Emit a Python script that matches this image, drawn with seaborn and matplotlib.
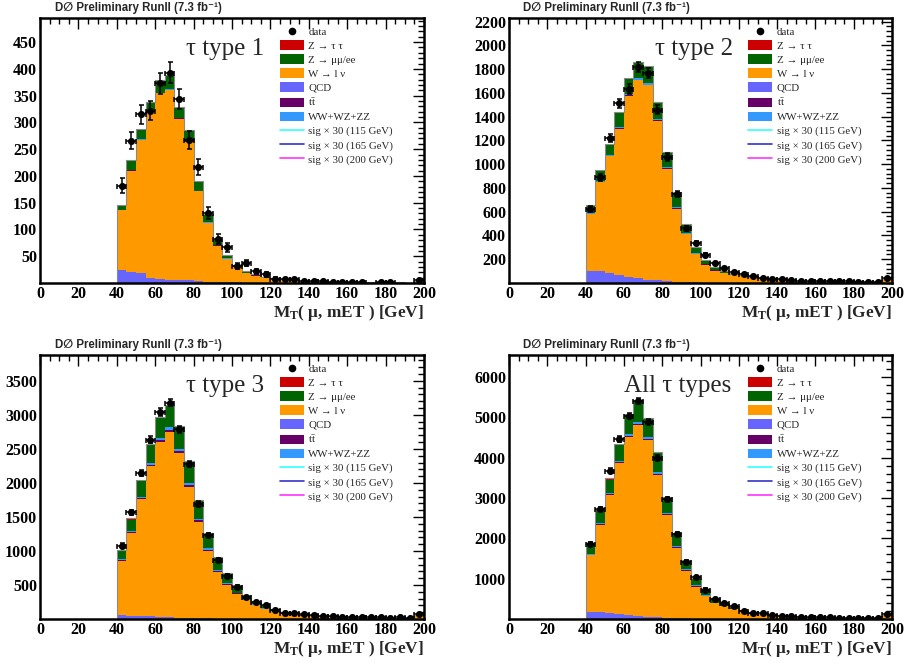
import numpy as np
import pandas as pd
import matplotlib
matplotlib.use("Agg")
import matplotlib.pyplot as plt
import seaborn as sns
from matplotlib.lines import Line2D
from matplotlib.patches import Patch
from matplotlib.ticker import MultipleLocator

nan = np.nan

# ---------------- data (events per 5 GeV bin, 40..200 GeV) ----------------
bin_low = [40, 45, 50, 55, 60, 65, 70, 75, 80, 85, 90, 95, 100, 105, 110, 115,
           120, 125, 130, 135, 140, 145, 150, 155, 160, 165, 170, 175, 180, 185, 190, 195]
bin_width = 5

panel_titles = ["τ type 1", "τ type 2", "τ type 3", "All τ types"]

# tau type 1
data_t1 = [182, 266, 315, 322, 373, 393, 343, 267, 217, 131, 82, 67, 31, 37, 22, 16,
           8, 7, 7, 3, 3, 3, 2, 2, 2, 2, nan, 1, 1, nan, nan, 5]
qcd_t1 = [24, 21, 19, 10, 8, 5, 5, 6, 3, 2, 1.5, 1, 1, 0.8, 0.6, 0.5,
          0.4, 0.3, 0.3, 0.2, 0.2, 0.2, 0.1, 0.1, 0.1, 0.1, 0.1, 0.1, 0.1, 0.1, 0.1, 0.2]
wlnu_t1 = [112, 189, 248, 310, 346, 355, 302, 258, 168, 110, 68.5, 44, 29, 18.2, 13.4, 10.5,
           7.6, 5.7, 4.7, 3.3, 2.6, 2.3, 1.9, 1.7, 1.4, 1.2, 1.0, 0.9, 0.8, 0.7, 0.6, 2.8]
ttbar_t1 = [0.2, 0.3, 0.4, 0.5, 0.5, 0.5, 0.5, 0.5, 0.4, 0.4, 0.3, 0.3, 0.2, 0.2, 0.2, 0.1,
            0.1, 0.1, 0.1, 0.1, 0.1, 0.1, 0.1, 0.1, 0.1, 0.0, 0.0, 0.0, 0.0, 0.0, 0.0, 0.1]
diboson_t1 = [0.5, 0.8, 1.0, 1.2, 1.3, 1.4, 1.3, 1.2, 1.0, 0.8, 0.6, 0.5, 0.4, 0.3, 0.3, 0.2,
              0.2, 0.2, 0.1, 0.1, 0.1, 0.1, 0.1, 0.1, 0.1, 0.1, 0.1, 0.1, 0.1, 0.1, 0.1, 0.2]
zmumu_t1 = [7.3, 17.7, 17.6, 16.4, 22.4, 25.4, 19.6, 19.8, 17.2, 15.5, 10.9, 7.0, 2.3, 2.4, 1.4, 0.6,
            0.6, 0.6, 0.7, 0.3, 0.3, 0.3, 0.2, 0.1, 0.1, 0.1, 0.1, 0.1, 0.1, 0.1, 0.1, 0.2]
ztautau_t1 = [1.0, 1.2, 1.0, 0.9, 0.8, 0.7, 0.6, 0.5, 0.4, 0.3, 0.2, 0.2, 0.1, 0.1, 0.1, 0.1,
              0.1, 0.1, 0.1, 0, 0, 0, 0, 0, 0, 0, 0, 0, 0, 0, 0, 0]

# tau type 2
data_t2 = [620, 890, 1218, 1513, 1631, 1821, 1766, 1457, 1058, 749, 460, 339, 236, 166, 124, 95,
           73, 59, 45, 36, 31, 25, 20, 18, 17, 15, 14, 13, 11, 10, 9, 39]
qcd_t2 = [101, 104, 87, 67, 53, 39, 25, 25, 17, 12, 8, 6, 4, 3, 2.5, 2,
          1.5, 1.2, 1.0, 0.8, 0.7, 0.6, 0.5, 0.4, 0.4, 0.3, 0.3, 0.3, 0.2, 0.2, 0.2, 1.0]
wlnu_t2 = [481, 747, 980, 1230, 1520, 1667, 1639, 1340, 944, 614, 402, 237, 151, 102, 82.5, 67.6,
           54.5, 44.2, 35.6, 29.0, 24.3, 20.6, 16.8, 15.0, 13.1, 11.2, 10.3, 9.3, 8.4, 7.5, 6.5, 23.7]
ttbar_t2 = [1, 2, 3, 4, 5, 5, 5, 5, 4, 4, 3, 3, 2, 2, 1.5, 1.2,
            1.0, 0.8, 0.7, 0.6, 0.5, 0.4, 0.3, 0.3, 0.2, 0.2, 0.2, 0.2, 0.2, 0.1, 0.1, 0.5]
diboson_t2 = [4, 6, 8, 10, 11, 12, 12, 11, 9, 7, 5, 4, 3, 2, 1.5, 1.2,
              1.0, 0.8, 0.7, 0.6, 0.5, 0.4, 0.4, 0.3, 0.3, 0.3, 0.2, 0.2, 0.2, 0.2, 0.2, 0.8]
zmumu_t2 = [60, 80, 80, 121, 127, 134, 141, 142, 129, 130, 77.5, 55, 33.2, 22.4, 16.5, 11.6,
            9.7, 7.8, 5.8, 4.9, 3.9, 2.9, 2.9, 2.0, 2.0, 2.0, 1.0, 1.0, 1.0, 1.0, 1.0, 4.0]
ztautau_t2 = [10, 12, 10, 8, 7, 6, 5, 4, 3, 2, 1.5, 1.0, 0.8, 0.6, 0.5, 0.4,
              0.3, 0.2, 0.2, 0.1, 0.1, 0.1, 0.1, 0, 0, 0, 0, 0, 0, 0, 0, 0]

# tau type 3
data_t3 = [1078, 1569, 2142, 2632, 3039, 3181, 2789, 2279, 1691, 1235, 868, 632, 475, 319, 250, 206,
           132, 93, 93, 69, 59, 44, 39, 34, 34, 29, 25, 25, 20, 25, 20, 74]
qcd_t3 = [59, 49, 47, 40, 30, 25, 20, 15, 12, 9, 7, 5, 4, 3, 2, 2,
          1.5, 1.0, 1.0, 0.8, 0.7, 0.6, 0.5, 0.5, 0.4, 0.4, 0.3, 0.3, 0.3, 0.3, 0.3, 1.0]
wlnu_t3 = [798, 1211, 1713, 2210, 2578, 2730, 2426, 1931, 1419, 996, 689, 495, 364, 276, 204, 148,
           103.5, 79, 63, 50.2, 41.3, 34.4, 29.5, 24.5, 21.6, 18.6, 16.7, 14.7, 13.7, 11.7, 10.7, 44]
ttbar_t3 = [8, 12, 16, 20, 23, 25, 24, 22, 19, 16, 13, 10, 8, 6, 5, 4,
            3, 2.5, 2.0, 1.6, 1.3, 1.1, 0.9, 0.8, 0.7, 0.6, 0.5, 0.5, 0.4, 0.4, 0.3, 1.5]
diboson_t3 = [12, 18, 24, 30, 34, 36, 34, 30, 26, 21, 16, 12, 9, 7, 5, 4,
              3, 2.5, 2.0, 1.6, 1.3, 1.1, 0.9, 0.8, 0.7, 0.6, 0.5, 0.5, 0.4, 0.4, 0.3, 1.5]
zmumu_t3 = [120, 171, 227, 260, 290, 322, 327, 321, 270, 215, 180, 148.5, 114, 60.2, 48.4, 47.5,
            28.6, 19.7, 16.8, 13.6, 11.3, 8.7, 7.1, 6.3, 5.5, 4.8, 4.0, 4.0, 3.2, 3.2, 3.4, 11.7]
ztautau_t3 = [18, 20, 17, 14, 11, 9, 7, 5, 4, 3, 2, 1.5, 1.0, 0.8, 0.6, 0.5,
              0.4, 0.3, 0.2, 0.2, 0.1, 0.1, 0.1, 0.1, 0.1, 0, 0, 0, 0, 0, 0, 0.3]

# all tau types
data_t4 = [1870, 2720, 3670, 4460, 5040, 5390, 4890, 4000, 2965, 2110, 1415, 1035, 730, 505, 392, 310,
           205, 158, 138, 95, 82, 62, 55, 48, 46, 42, 37, 36, 31, 32, 28, 117]
qcd_t4 = [180, 175, 150, 115, 90, 68, 50, 45, 33, 23, 16, 12, 9, 6, 5, 4,
          3, 2.5, 2.0, 1.6, 1.4, 1.2, 1.0, 0.9, 0.8, 0.7, 0.6, 0.5, 0.5, 0.5, 0.5, 2.0]
wlnu_t4 = [1405, 2153, 2921, 3741, 4425, 4736, 4383, 3521, 2543, 1743, 1173, 788, 561, 382, 305, 241,
           172, 132.5, 106, 85.4, 70.6, 59.8, 51, 44.1, 39.2, 34.3, 31.4, 28.5, 26.5, 24.5, 22.5, 83]
ttbar_t4 = [9, 14, 19, 24, 28, 30, 29, 27, 23, 20, 16, 13, 10, 8, 6.5, 5,
            4, 3.4, 2.8, 2.3, 1.9, 1.6, 1.3, 1.2, 1.0, 0.8, 0.7, 0.7, 0.6, 0.5, 0.4, 2.0]
diboson_t4 = [17, 25, 33, 41, 46, 49, 47, 42, 36, 29, 22, 17, 12, 9, 7, 5.5,
              4, 3.5, 2.8, 2.3, 1.9, 1.6, 1.4, 1.2, 1.1, 1.0, 0.8, 0.8, 0.7, 0.7, 0.6, 2.5]
zmumu_t4 = [217, 316, 332, 382, 469, 524, 448, 483, 387, 302, 230, 175, 124, 106.5, 75.3, 53.5,
            36.2, 27.5, 20.9, 16.1, 14, 11.6, 7.1, 6.5, 5.8, 5.2, 3.5, 3.5, 2.7, 1.8, 2.0, 5.2]
ztautau_t4 = [29, 33, 29, 23, 19, 16, 13, 10, 7, 5, 4, 3, 2, 1.5, 1.2, 1.0,
              0.8, 0.6, 0.5, 0.3, 0.2, 0.2, 0.2, 0.1, 0.1, 0, 0, 0, 0, 0, 0, 0.3]

panels = [
    dict(data=data_t1, comps=[qcd_t1, wlnu_t1, ttbar_t1, diboson_t1, zmumu_t1, ztautau_t1]),
    dict(data=data_t2, comps=[qcd_t2, wlnu_t2, ttbar_t2, diboson_t2, zmumu_t2, ztautau_t2]),
    dict(data=data_t3, comps=[qcd_t3, wlnu_t3, ttbar_t3, diboson_t3, zmumu_t3, ztautau_t3]),
    dict(data=data_t4, comps=[qcd_t4, wlnu_t4, ttbar_t4, diboson_t4, zmumu_t4, ztautau_t4]),
]

# ---------------- style ----------------
sns.set_theme(style="white")
plt.rcParams['font.family'] = ['Liberation Serif', 'DejaVu Serif']
plt.rcParams['mathtext.fontset'] = 'custom'
plt.rcParams['mathtext.rm'] = 'Liberation Serif'
plt.rcParams['mathtext.it'] = 'Liberation Serif:italic'
plt.rcParams['mathtext.bf'] = 'Liberation Serif:bold'

comp_colors = ['#6666ff', '#ff9900', '#660066', '#3399ff', '#006400', '#cc0000']
sig_colors = ['#33ffff', '#3333cc', '#ff33ff']

ylims = [495, 2230, 3880, 6540]
ymajor = [50, 200, 500, 1000]
yminor = [10, 40, 100, 200]

W, H = 905, 665
rects_px = [(40, 18, 424, 283), (509, 18, 892, 283), (40, 355, 424, 619), (509, 355, 892, 619)]
title_px = [(55, 8), (523, 8), (55, 345), (523, 345)]
label_px = [(225, 49), (694, 49), (225, 386), (678, 386)]

fig = plt.figure(figsize=(W / 100, H / 100), dpi=100)

centers = [lo + bin_width / 2 for lo in bin_low]
hist_range = (bin_low[0], bin_low[-1] + bin_width)

for i, p in enumerate(panels):
    l, t, r, b = rects_px[i]
    ax = fig.add_axes([l / W, 1 - b / H, (r - l) / W, (b - t) / H])

    comps = np.array(p['comps'], dtype=float)
    cum = np.cumsum(comps, axis=0)
    # draw stacked layers from top-most cumulative down
    for k in reversed(range(len(comps))):
        df = pd.DataFrame({'mt': centers, 'w': cum[k]})
        sns.histplot(data=df, x='mt', weights='w', binwidth=bin_width, binrange=hist_range,
                     element="step", fill=True, color=comp_colors[k], alpha=1,
                     linewidth=0, ax=ax)
    # outline of stack
    df = pd.DataFrame({'mt': centers, 'w': cum[-1]})
    sns.histplot(data=df, x='mt', weights='w', binwidth=bin_width, binrange=hist_range,
                 element="step", fill=True, color='#8a8a8a', alpha=1, linewidth=0.8, ax=ax)
    ax.collections[-1].set_facecolor('none')

    data = np.array(p['data'], dtype=float)
    ax.errorbar(centers, data, yerr=np.sqrt(data), xerr=bin_width / 2, fmt='none',
                ecolor='black', elinewidth=1.1, capsize=1.8, capthick=1.1, zorder=4)
    sns.scatterplot(x=centers, y=data, color='black', s=26, linewidth=0, ax=ax, zorder=5)

    ax.set_xlim(0, 200)
    ax.set_ylim(0, ylims[i])
    ax.set_xlabel('')
    ax.set_ylabel('')
    ax.set_xticks(np.arange(0, 201, 20))
    ax.xaxis.set_minor_locator(MultipleLocator(5))
    ax.set_yticks(np.arange(ymajor[i], ylims[i], ymajor[i]))
    ax.yaxis.set_minor_locator(MultipleLocator(yminor[i]))
    ax.tick_params(which='both', direction='in', top=True, right=True, width=1.0, colors='black')
    ax.tick_params(which='major', length=8, labelsize=11.5, pad=2)
    ax.tick_params(which='minor', length=4)
    for lab in ax.get_xticklabels() + ax.get_yticklabels():
        lab.set_fontweight('bold')
    for s in ax.spines.values():
        s.set_linewidth(1.8)
        s.set_color('black')

    ax.text(1.0, -0.113, r'M$_{\mathbf{T}}$( μ, mET ) [GeV]', transform=ax.transAxes,
            ha='right', va='center', fontsize=12.4, fontweight='bold')

    # legend
    handles = [
        Line2D([], [], marker='o', color='black', linestyle='none', markersize=4.5),
        Patch(facecolor=comp_colors[5], edgecolor='none'),
        Patch(facecolor=comp_colors[4], edgecolor='none'),
        Patch(facecolor=comp_colors[1], edgecolor='none'),
        Patch(facecolor=comp_colors[0], edgecolor='none'),
        Patch(facecolor=comp_colors[2], edgecolor='none'),
        Patch(facecolor=comp_colors[3], edgecolor='none'),
        Line2D([], [], color=sig_colors[0], lw=1.2),
        Line2D([], [], color=sig_colors[1], lw=1.2),
        Line2D([], [], color=sig_colors[2], lw=1.2),
    ]
    labels = ['data', 'Z → τ τ', 'Z → μμ/ee', 'W → l ν', 'QCD', r't$\bar{\rm t}$',
              'WW+WZ+ZZ', 'sig × 30 (115 GeV)', 'sig × 30 (165 GeV)', 'sig × 30 (200 GeV)']
    ax.legend(handles, labels, loc='upper left', bbox_to_anchor=(0.625, 0.968),
              frameon=False, fontsize=7.8, handlelength=2.2, handleheight=0.95,
              handletextpad=0.4, labelspacing=0.33, borderpad=0, borderaxespad=0)

    fig.text(title_px[i][0] / W, 1 - title_px[i][1] / H, 'D∅ Preliminary RunII (7.3 fb⁻¹)',
             ha='left', va='center', fontsize=8.3, fontweight='bold',
             family=['Liberation Sans', 'DejaVu Sans'])
    fig.text(label_px[i][0] / W, 1 - label_px[i][1] / H, panel_titles[i],
             ha='center', va='center', fontsize=18)

fig.savefig('out.png', dpi=100)
